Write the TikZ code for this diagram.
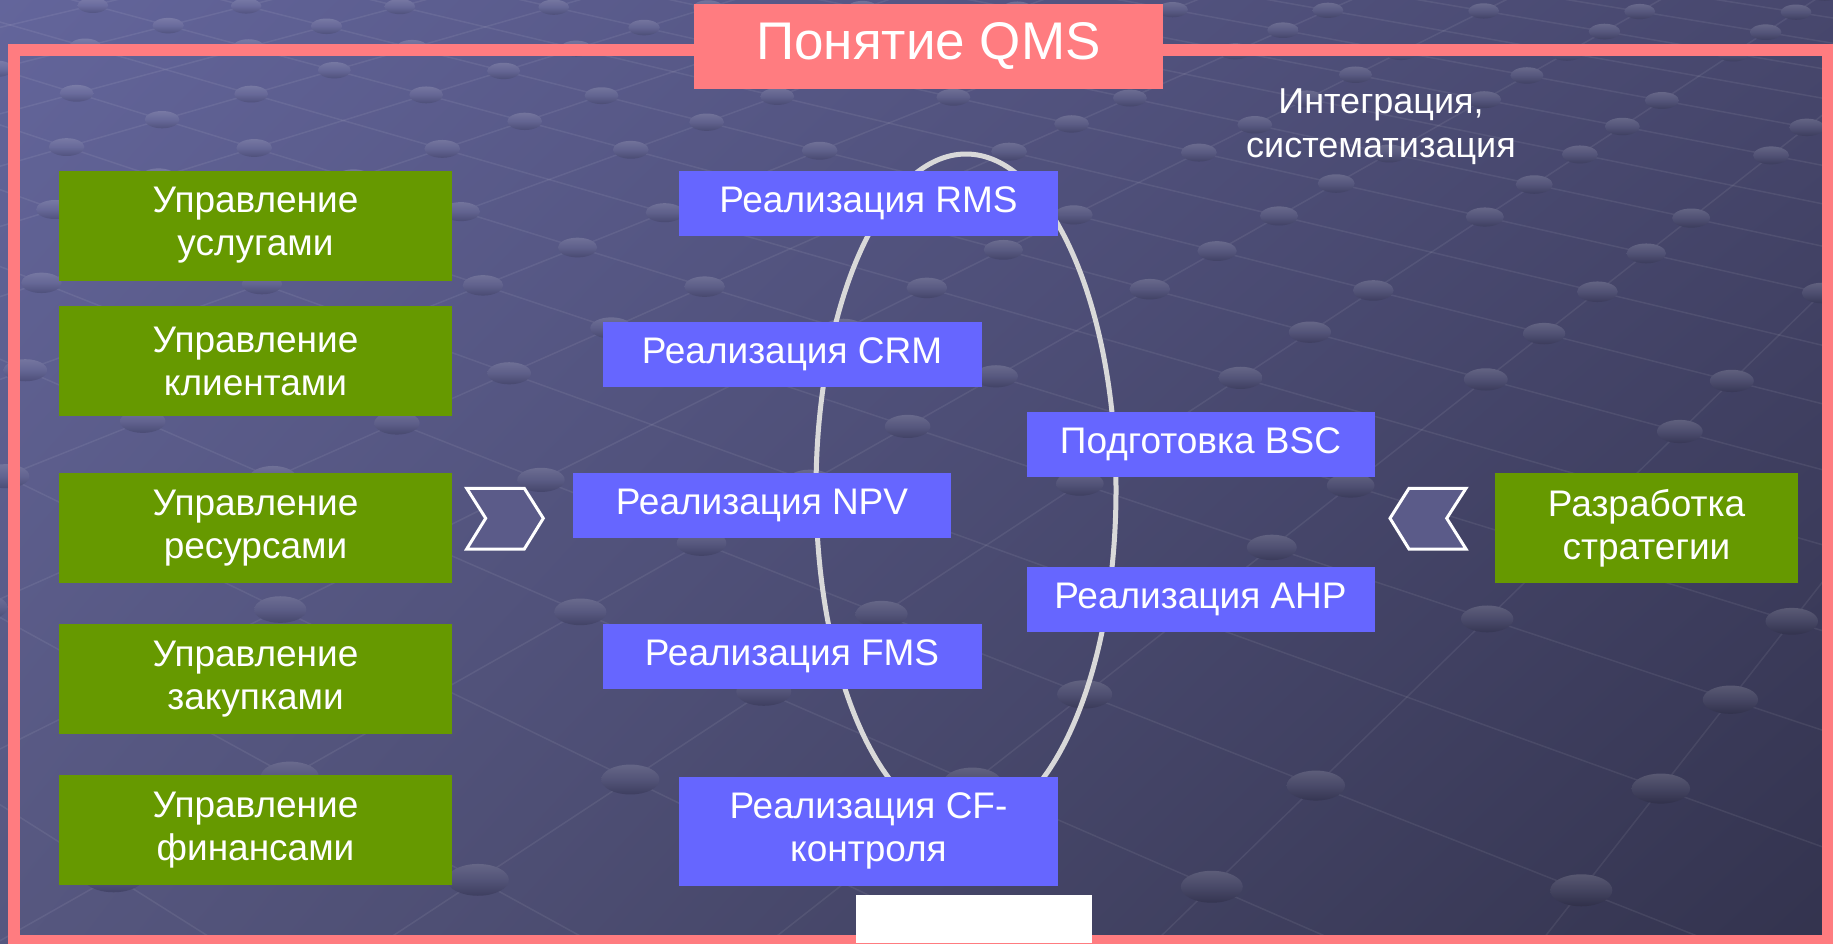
\documentclass[tikz,border=0pt]{standalone}
\usepackage{fontspec}
\setmainfont{Liberation Sans}
\usetikzlibrary{shapes.geometric,shadings,calc}
\definecolor{pinkf}{HTML}{FF7C80}
\definecolor{greenc}{HTML}{669900}
\definecolor{bluec}{HTML}{6666FF}
\definecolor{ringc}{HTML}{D9D9D9}
\definecolor{chevc}{HTML}{5B5B89}
\definecolor{bgUL}{HTML}{63659B}
\definecolor{bgUR}{HTML}{47476D}
\definecolor{bgLL}{HTML}{56577F}
\definecolor{bgLR}{HTML}{33334E}
\tikzset{
  greenbox/.style={fill=greenc, text=white, inner sep=0pt, minimum height=110, align=center, font=\fontsize{37}{43}\selectfont},
  bluebox/.style={fill=bluec, text=white, inner sep=0pt, minimum height=65, align=center, font=\fontsize{37}{43}\selectfont},
  chevron/.style={draw=white, line width=3, fill=chevc, line join=miter},
  meshline/.style={white, opacity=0.07, line width=1.5},
}
\begin{document}
\begin{tikzpicture}[x=1pt,y=-1pt]
\useasboundingbox (0,0) rectangle (1833,943);
% background
\shade[upper left=bgUL, upper right=bgUR, lower left=bgLL, lower right=bgLR] (0,0) rectangle (1833,943);
% texture: perspective mesh
\begin{scope}
\clip (0,0) rectangle (1833,943);
\coordinate (vpA) at (2770,-629);
\coordinate (vpB) at (-2270,-629);
\foreach \k in {-14,...,1}{
  \pgfmathsetmacro{\Xa}{1154+\k*386}
  \draw[meshline] (vpA) -- ($(vpA)!1.02!(\Xa,943)$);
}
\foreach \m in {-5,...,17}{
  \pgfmathsetmacro{\Xb}{1715+\m*374}
  \draw[meshline] (vpB) -- ($(vpB)!1.02!(\Xb,943)$);
}
\foreach \k in {-14,...,1}{
  \foreach \m in {-5,...,17}{
    \pgfmathsetmacro{\den}{(171.5+\m*37.4)-(115.4+\k*38.6)+504}
    \pgfmathsetmacro{\rr}{504/\den}
    \pgfmathsetmacro{\py}{-629+1572*\rr}
    \pgfmathsetmacro{\px}{2770+(1154+\k*386-2770)*\rr}
    \pgfmathtruncatemacro{\inside}{and(and(\px>-40,\px<1873),and(\py>-20,\py<963))}
    \pgfmathtruncatemacro{\sel}{mod(\k*3+\m*7+1000,6)}
    \ifnum\inside=1
    \ifnum\sel<5
      \pgfmathtruncatemacro{\pct}{max(0,min(100,100-(\px/1833*55+\py/943*45)))}
      \colorlet{bc}{bgUL!\pct!bgLR}
      \begin{scope}[shift={(\px,\py)}, yscale=-1]
        \shade[top color=white!16!bc, bottom color=black!14!bc, middle color=white!6!bc] (0,0) ellipse [x radius={4+28*\rr}, y radius={1.5+15*\rr}];
      \end{scope}
    \fi
    \fi
  }
}
\end{scope}
% frame
\draw[pinkf, line width=12] (14,50) rectangle (1828,941);
\node[fill=pinkf, text=white, inner sep=0pt, minimum width=469, minimum height=85, font=\fontsize{53}{60}\selectfont] (title) at (928.5,46.5) {\raisebox{-5pt}{Понятие QMS}};
\node[fill=white, inner sep=0pt, minimum width=236, minimum height=48, anchor=north west] (blank) at (856,895) {};
% integration label
\node[text=white, align=center, font=\fontsize{36}{44}\selectfont] (integ) at (1381,127) {Интеграция,\\систематизация};
% green boxes
\node[greenbox, minimum width=393] (g1) at (255.5,225.5) {Управление\\услугами};
\node[greenbox, minimum width=393] (g2) at (255.5,361) {Управление\\клиентами};
\node[greenbox, minimum width=393] (g3) at (255.5,528) {Управление\\ресурсами};
\node[greenbox, minimum width=393] (g4) at (255.5,679) {Управление\\закупками};
\node[greenbox, minimum width=393] (g5) at (255.5,830) {Управление\\финансами};
\node[greenbox, minimum width=303] (g6) at (1646.5,528) {Разработка\\стратегии};
% ring
\node[draw=ringc, line width=5, ellipse, inner sep=0pt, minimum width=300, minimum height=672] (ring) at (966,490) {};
% blue boxes
\node[bluebox, minimum width=379] (rms) at (868.5,203.5) {Реализация RMS};
\node[bluebox, minimum width=379] (crm) at (792,354.5) {Реализация CRM};
\node[bluebox, minimum width=378] (npv) at (762,505) {Реализация NPV};
\node[bluebox, minimum width=379] (fms) at (792,656) {Реализация FMS};
\node[bluebox, minimum width=379, minimum height=109] (cf) at (868.5,831) {Реализация CF-\\контроля};
\node[bluebox, minimum width=348] (bsc) at (1200.5,444.5) {Подготовка BSC};
\node[bluebox, minimum width=348] (ahp) at (1200.5,599.5) {Реализация AHP};
% chevrons
\draw[chevron] (466.7,488.3) -- (524.3,488.3) -- (543.3,518.3) -- (524.3,549) -- (466.7,549) -- (485.7,518.3) -- cycle;
\draw[chevron] (1409,488.3) -- (1466,488.3) -- (1446.7,518.3) -- (1466,549) -- (1409,549) -- (1390,518.3) -- cycle;
\end{tikzpicture}
\end{document}
